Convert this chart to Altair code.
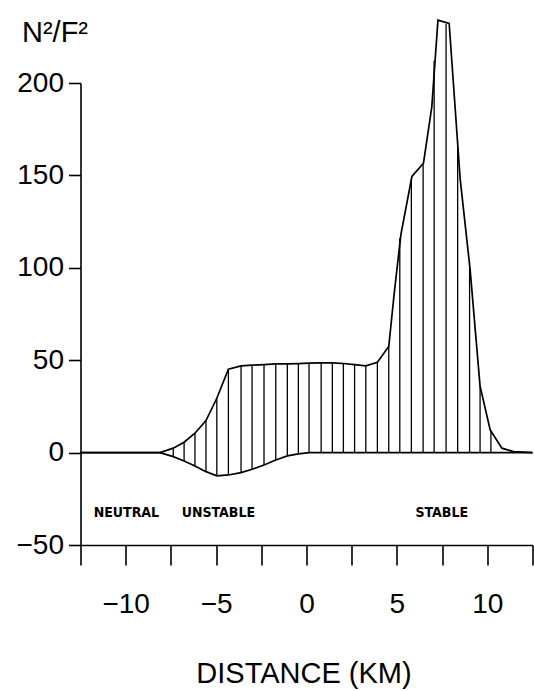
import altair as alt
import pandas as pd

# ---- data ----
# upper outline (km, N^2/F^2)
upper_x = [-12.5, -8.1, -7.37, -6.77, -6.17, -5.56, -4.96, -4.32, -3.62, -3.01, -2.35, -1.70,
           -1.06, -0.45, 0.14, 0.81, 1.43, 2.04, 2.66, 3.28, 3.92, 4.55, 4.85, 5.22, 5.83,
           6.47, 6.93, 7.27, 7.89, 8.50, 9.05, 9.60, 10.16, 10.81, 11.45, 12.5]
upper_y = [0, 0, 2.4, 5.6, 10.5, 17.3, 29.4, 45.1, 46.9, 47.3, 47.6, 48.0,
           48.0, 48.2, 48.4, 48.5, 48.5, 48.2, 47.6, 46.9, 48.9, 57.4, 86, 118, 149.4,
           156.6, 187, 234, 232.3, 148, 99, 36, 12.3, 2.4, 0.5, 0]

# lower outline
lower_x = [-12.5, -8.1, -7.37, -6.77, -6.17, -5.56, -4.96, -4.32, -3.62, -3.01, -2.35,
           -1.70, -1.06, -0.45, 0.14, 12.5]
lower_y = [0, 0, -2.2, -4.5, -7.2, -10.3, -12.6, -12.1, -10.8, -9.0, -6.7,
           -4.0, -1.8, -0.7, 0, 0]

# vertical hatch lines
hatch_x = [-7.37, -6.77, -6.17, -5.56, -4.96, -4.32, -3.62, -3.01, -2.35, -1.70, -1.06,
           -0.45, 0.14, 0.81, 1.43, 2.04, 2.66, 3.28, 3.92, 4.55, 5.16, 5.80, 6.45, 7.06,
           7.72, 8.36, 9.02, 9.60, 10.2]
hatch_top = [2.4, 5.6, 10.5, 17.3, 29.4, 45.1, 46.9, 47.3, 47.6, 48.0, 48.0,
             48.2, 48.4, 48.5, 48.5, 48.2, 47.6, 46.9, 48.9, 57.4, 116, 148, 156, 212,
             232, 165, 100, 36, 12]
hatch_bottom = [-2.2, -4.5, -7.2, -10.3, -12.6, -12.1, -10.8, -9.0, -6.7, -4.0, -1.8,
                -0.7, 0, 0, 0, 0, 0, 0, 0, 0, 0, 0, 0, 0,
                0, 0, 0, 0, 0]

region_names = ["NEUTRAL", "UNSTABLE", "STABLE"]
region_x = [-11.77, -6.9, 6.03]
region_y = [-35, -35, -35]

x_ticks = [-12.5, -10, -7.5, -5, -2.5, 0, 2.5, 5, 7.5, 10, 12.5]
y_ticks = [-50, 0, 50, 100, 150, 200]

upper = pd.DataFrame({"x": upper_x, "y": upper_y})
lower = pd.DataFrame({"x": lower_x, "y": lower_y})
hatch = pd.DataFrame({"x": hatch_x, "top": hatch_top, "bottom": hatch_bottom})
regions = pd.DataFrame({"x": region_x, "y": region_y, "name": region_names})

FONT = "Liberation Sans"

xs = alt.Scale(domain=[-12.5, 12.5], nice=False, zero=False)
ys = alt.Scale(domain=[-50, 200], nice=False, zero=False)

x_axis = alt.Axis(
    values=x_ticks, labelExpr="datum.value % 5 == 0 ? datum.label : ''",
    tickSize=20, tickWidth=1.6, domainWidth=1.6, labelPadding=47,
    labelBaseline="alphabetic", labelFontSize=28, labelFont=FONT,
    labelColor="black", tickColor="black", domainColor="black",
    labelFlush=False, labelOverlap=False, grid=False,
    title="DISTANCE (KM)", titleFont=FONT, titleFontSize=29,
    titleFontWeight="normal", titleColor="black",
    titleBaseline="alphabetic", titleY=137, titleX=223,
)
y_axis = alt.Axis(
    values=y_ticks, tickSize=12, tickWidth=1.6, domainWidth=1.6, labelPadding=5,
    labelFontSize=28, labelFont=FONT, labelColor="black", tickColor="black",
    domainColor="black", labelFlush=False, labelOverlap=False, grid=False,
    title="N²/F²", titleFont=FONT, titleFontSize=29, titleFontWeight="normal",
    titleColor="black", titleAngle=0, titleAlign="left", titleBaseline="alphabetic",
    titleX=-59, titleY=-42,
)

X = alt.X("x:Q", scale=xs, axis=x_axis)

upper_line = alt.Chart(upper).mark_line(color="black", strokeWidth=1.7, clip=False).encode(
    x=X, y=alt.Y("y:Q", scale=ys, axis=y_axis)
)
lower_line = alt.Chart(lower).mark_line(color="black", strokeWidth=1.7, clip=False).encode(
    x=X, y=alt.Y("y:Q", scale=ys, axis=y_axis)
)
hatch_rules = alt.Chart(hatch).mark_rule(color="black", strokeWidth=1.3, clip=False).encode(
    x=X, y=alt.Y("bottom:Q", scale=ys, axis=y_axis), y2="top:Q"
)
region_text = alt.Chart(regions).mark_text(
    align="left", baseline="alphabetic", fontSize=14, fontWeight="bold",
    font="Liberation Sans Narrow, DejaVu Sans Condensed, Liberation Sans", color="black"
).encode(x=X, y=alt.Y("y:Q", scale=ys, axis=y_axis), text="name:N")

chart = alt.layer(hatch_rules, upper_line, lower_line, region_text).properties(
    width=452, height=462,
    autosize=alt.AutoSizeParams(type="none"),
    padding={"left": 80.5, "top": 83, "right": 1.5, "bottom": 146},
    background="white",
).configure_view(stroke=None)

chart.save("out.html", embed_options={"renderer": "svg", "actions": False})
